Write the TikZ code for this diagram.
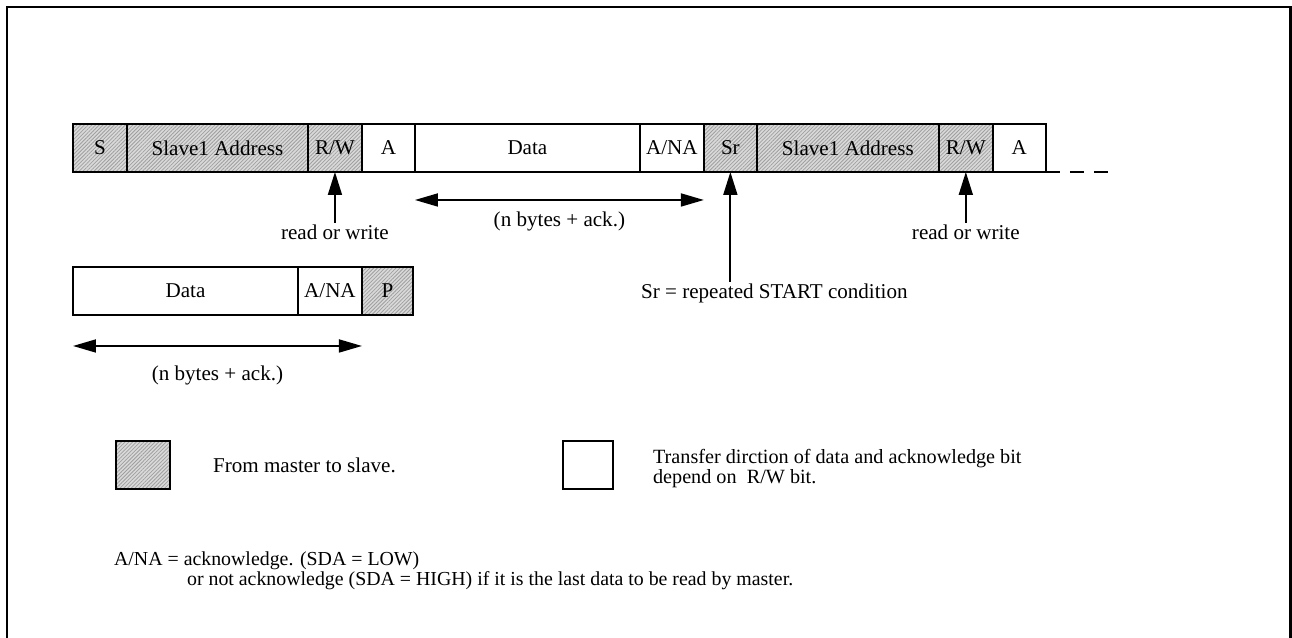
\documentclass[tikz,border=0pt]{standalone}
\usepackage{fontspec}
\setmainfont{Liberation Serif}
\usetikzlibrary{arrows.meta, positioning, patterns.meta}

\begin{document}
\begin{tikzpicture}[x=0.02cm, y=-0.02cm]\fontsize{12}{14}\selectfont
	\tikzstyle{fld} = [draw, line width=1.1pt, rectangle, minimum height=0.96cm, inner sep=0pt, outer sep=0pt]
	\tikzstyle{mst} = [fld, preaction={fill=gray!30}, pattern={Lines[angle=45, distance=1.5pt, line width=0.45pt]}, pattern color=gray!75]
	\tikzstyle{lbl} = [inner sep=1pt]
	\tikzstyle{arw} = [line width=1pt, -{Triangle[length=0.46cm, width=0.28cm]}]
	\tikzstyle{darw} = [line width=1pt, {Triangle[length=0.46cm, width=0.26cm]}-{Triangle[length=0.46cm, width=0.26cm]}]
	
	\useasboundingbox (0,0) rectangle (1292,638);
	\draw[line width=1.7pt] (7,638) |- (1290,7) -- (1290,638);
	
	% first frame
	\node[mst, minimum width=1.08cm, anchor=north west] (s) at (73,124) {S};
	\node[mst, minimum width=3.62cm, right=0pt of s] (adr1) {Slave1 Address};
	\node[mst, minimum width=1.08cm, right=0pt of adr1] (rw1) {R/W};
	\node[fld, minimum width=1.06cm, right=0pt of rw1] (a1) {A};
	\node[fld, minimum width=4.5cm, right=0pt of a1] (data1) {Data};
	\node[fld, minimum width=1.28cm, right=0pt of data1] (ana1) {A/NA};
	\node[mst, minimum width=1.06cm, right=0pt of ana1] (sr) {Sr};
	\node[mst, minimum width=3.64cm, right=0pt of sr] (adr2) {Slave1 Address};
	\node[mst, minimum width=1.08cm, right=0pt of adr2] (rw2) {R/W};
	\node[fld, minimum width=1.06cm, right=0pt of rw2] (a2) {A};
	\coordinate[right=1.26cm of a2.south east] (more);
	\draw[line width=1.1pt, dash pattern=on 0.28cm off 0.2cm] (a2.south east) -- (more);
	
	\node[lbl, below=1.02cm of rw1] (rwl1) {read or write};
	\node[lbl, below=1.02cm of rw2] (rwl2) {read or write};
	\node[lbl, below=2.2cm of sr, xshift=0.88cm] (srl) {Sr = repeated START condition};
	\draw[arw] (rwl1) -- (rw1);
	\draw[arw] (rwl2) -- (rw2);
	\draw[arw] (srl.north -| sr.south) -- (sr);
	
	\coordinate[below=0.56cm of data1.south west] (d1l);
	\coordinate[below=0.56cm of ana1.south east] (d1r);
	\draw[darw] (d1l) -- node[lbl, below=5pt] (cnt1) {(n bytes + ack.)} (d1r);
	
	% last frame
	\node[fld, minimum width=4.5cm, anchor=north west] (data2) at (73,267) {Data};
	\node[fld, minimum width=1.28cm, right=0pt of data2] (ana2) {A/NA};
	\node[mst, minimum width=1.02cm, right=0pt of ana2] (p) {P};
	\coordinate[below=0.62cm of data2.south west] (d2l);
	\coordinate[below=0.62cm of ana2.south east] (d2r);
	\draw[darw] (d2l) -- node[lbl, below=10pt] (cnt2) {(n bytes + ack.)} (d2r);
	
	% key
	\node[mst, minimum width=1.08cm, anchor=north west] (keym) at (116,441) {};
	\node[lbl, right=0.82cm of keym] (keymt) {From master to slave.};
	\node[fld, minimum width=1.0cm, anchor=north west] (keyd) at (563,441) {};
	\node[lbl, right=0.76cm of keyd, yshift=-2pt, align=left, font=\fontsize{11.5}{11}\selectfont] (keydt) {Transfer dirction of data and acknowledge bit\\depend on \ R/W bit.};
	
	\node[lbl, anchor=north west, align=left, font=\fontsize{11.3}{9.8}\selectfont] (note) at (112,550) {A/NA = acknowledge. (SDA = LOW)\\\hspace*{1.46cm}or not acknowledge (SDA = HIGH) if it is the last data to be read by master.};
\end{tikzpicture}
\end{document}
